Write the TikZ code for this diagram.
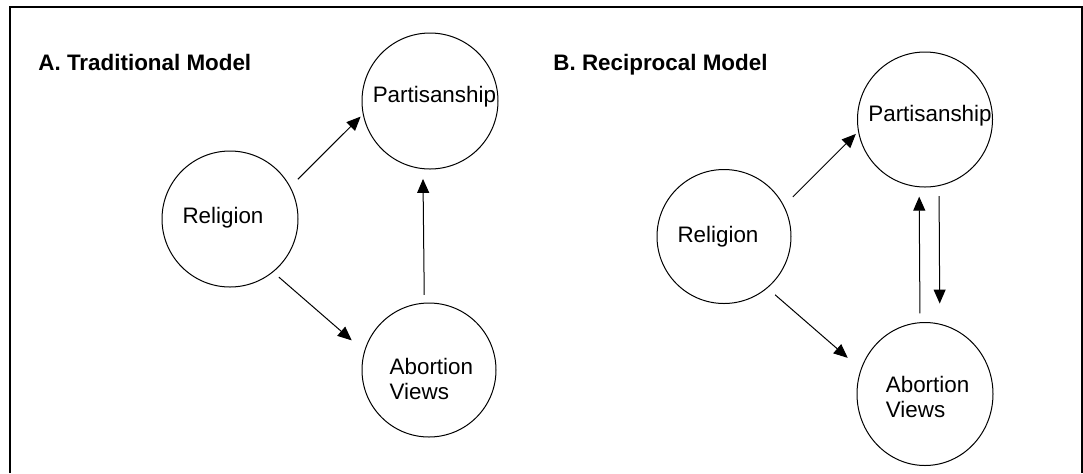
\documentclass[tikz,border=0pt]{standalone}
\usepackage{fontspec}
\setmainfont{Liberation Sans}
\usetikzlibrary{arrows.meta,shapes.geometric}

\begin{document}
\begin{tikzpicture}[x = 0.5pt, y = -0.5pt,
        var/.style = {draw, circle, line width = 0.5pt, inner sep = 0pt, outer sep = 0pt},
        vartext/.style = {inner sep = 0pt, align = left},
        heading/.style = {font = \fontsize{11.2}{12.5}\selectfont\bfseries, anchor = base west, inner sep = 0pt},
        link/.style = {-{Triangle[length = 7pt, width = 6pt]}, line width = 0.5pt}]
        \useasboundingbox (0,0) rectangle (1083,473);
        \draw [line width = 1pt] (10,473) -- (10,7) -- (1082,7) -- (1082,473);
        \node [heading] (titleA) at (38,70) {A. Traditional Model};
        \node [heading] (titleB) at (553,70) {B. Reciprocal Model};
        % A. traditional model
        \node [var, minimum size = 68pt] (relA) at (230,219) {};
        \node [var, minimum size = 68pt] (parA) at (430,101) {};
        \node [var, minimum size = 67pt] (aboA) at (429,370) {};
        % B. reciprocal model
        \node [var, minimum size = 67pt] (relB) at (724,236.5) {};
        \node [var, minimum size = 67.5pt] (parB) at (925,119.5) {};
        \node [var, ellipse, minimum width = 68pt, minimum height = 71.5pt] (aboB) at (925,394) {};
        \begin{scope}[font = \fontsize{11.2}{12.5}\selectfont]
            \node [vartext, xshift = -3.5pt, yshift = 0.6pt] (relAtext) at (relA) {Religion};
            \node [vartext, xshift = 2.2pt, yshift = 2.3pt] (parAtext) at (parA) {Partisanship};
            \node [vartext, xshift = 1.2pt, yshift = -4.4pt] (aboAtext) at (aboA) {Abortion\\Views};
            \node [vartext, xshift = -3pt] (relBtext) at (relB) {Religion};
            \node [vartext, xshift = 2.5pt, yshift = 2.1pt] (parBtext) at (parB) {Partisanship};
            \node [vartext, xshift = 1.3pt, yshift = -1.5pt] (aboBtext) at (aboB) {Abortion\\Views};
        \end{scope}
        \draw [link, shorten < = 5.5pt, shorten > = 1.85pt] (relA.28.3) -- (parA.191.4);
        \draw [link, shorten < = 4pt, shorten > = 8.5pt] (relA.-51) -- (aboA.164);
        \draw [link, shorten < = 4.1pt, shorten > = 5.15pt] (aboA.94.3) -- (parA.264.9);
        \draw [link, shorten < = 6.5pt, shorten > = 1.9pt] (relB.27) -- (parB.190.9);
        \draw [link, shorten < = 5.35pt, shorten > = 8.85pt] (relB.-50.2) -- (aboB.159.1);
        \draw [link, shorten < = 4.7pt, shorten > = 4.95pt] (aboB.94) -- (parB.265.8);
        \draw [link, shorten < = 5.25pt, shorten > = 10.35pt] (parB.282) -- (aboB.78.7);
    \end{tikzpicture}
\end{document}
